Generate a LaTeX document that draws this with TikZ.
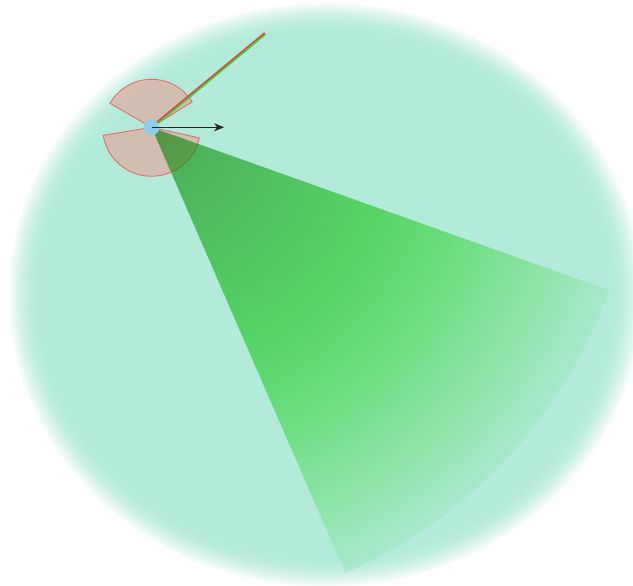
\documentclass[tikz,border=0pt]{standalone}
\usetikzlibrary{arrows.meta}
\definecolor{bgteal}{RGB}{179,234,218}
\definecolor{secfill}{RGB}{232,161,151}
\definecolor{secline}{RGB}{222,96,96}
\definecolor{sensorblue}{RGB}{143,203,235}
\definecolor{gA}{RGB}{1,119,0}
\definecolor{gB}{RGB}{9,144,8}
\definecolor{gC}{RGB}{22,197,25}
\definecolor{gD}{RGB}{64,214,71}
\definecolor{gE}{RGB}{114,224,130}
\definecolor{gF}{RGB}{164,231,197}
\definecolor{lineRed}{RGB}{220,70,60}
\definecolor{lineGreen}{RGB}{60,210,60}
\pgfdeclareradialshading{bgsh}{\pgfpoint{0bp}{0bp}}{color(0bp)=(bgteal); color(22.6bp)=(bgteal); color(23.3bp)=(bgteal!88!white); color(23.9bp)=(bgteal!65!white); color(24.4bp)=(bgteal!38!white); color(24.8bp)=(bgteal!15!white); color(25bp)=(white); color(50bp)=(white)}
\pgfdeclareradialshading{conesh}{\pgfpoint{0bp}{0bp}}{color(0bp)=(gA); color(3bp)=(gB); color(12bp)=(gC); color(17bp)=(gD); color(21bp)=(gE); color(25bp)=(gF); color(50bp)=(gF)}
\tikzset{
  sectorstyle/.style={fill=secfill, fill opacity=0.6, draw=secline, draw opacity=0.85, line width=0.9pt},
  sensorstyle/.style={circle, fill=sensorblue, minimum size=16pt, inner sep=0pt},
  headingarrow/.style={draw=black!85, line width=0.7pt, -{Stealth[length=10pt, width=8pt]}}
}
\begin{document}
\begin{tikzpicture}[x=1pt, y=1pt]
\useasboundingbox (0,0) rectangle (633,586);
% background disc with soft edge
\coordinate (C) at (325,291.5);
\shade[shading=bgsh] (C) ellipse [x radius=318, y radius=293];
% sensor position
\coordinate (S) at (151.5,458.7);
% blind sectors
\path[sectorstyle] (S) -- ++(32:48) arc[start angle=32, end angle=150, radius=48] -- cycle;
\path[sectorstyle] (S) -- ++(189.5:49) arc[start angle=189.5, end angle=347.5, radius=49] -- cycle;
% field of view cone
\begin{scope}
  \clip (S) -- ++(-19.6:486) arc[start angle=-19.6, end angle=-66.5, radius=486] -- cycle;
  \shade[shading=conesh, fill opacity=0.6] (S) circle[radius=486];
\end{scope}
% sensor
\node[sensorstyle] (sensor) at (S) {};
% ray
\coordinate (r1) at (157,464);
\coordinate (r2) at (264.5,553);
\draw[lineGreen, line width=1.9pt, transform canvas={xshift=1.1pt, yshift=-1pt}] (r1) -- (r2);
\draw[lineRed, line width=1.5pt] (r1) -- (r2);
% heading arrow
\coordinate (H) at (224,458.7);
\draw[headingarrow] (S) -- (H);
\end{tikzpicture}
\end{document}
